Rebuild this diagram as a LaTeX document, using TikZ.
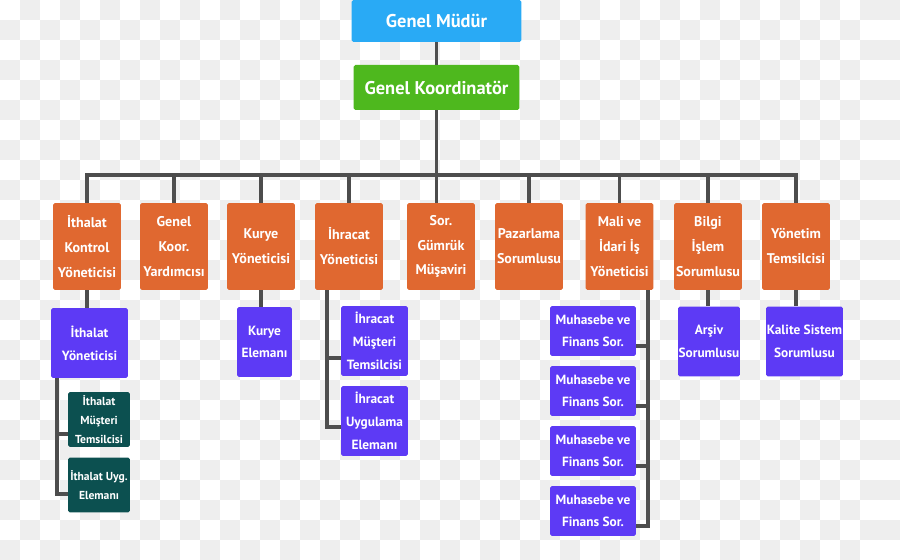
\documentclass[tikz,border=0pt]{standalone}
\usepackage{fontspec}
\setmainfont{PT Sans}
\usepackage{tikz}
\usetikzlibrary{positioning, calc}
\usepackage{xcolor}
\definecolor{chiefblue}{RGB}{41,170,245}
\definecolor{coordgreen}{RGB}{78,184,30}
\definecolor{deptorange}{RGB}{224,104,48}
\definecolor{staffpurple}{RGB}{93,58,245}
\definecolor{deepteal}{RGB}{12,80,80}
\definecolor{linegray}{RGB}{77,77,77}
\definecolor{checkgray}{RGB}{238,238,238}

\begin{document}
\begin{tikzpicture}[x=0.02cm, y=-0.02cm,
  unit/.style={rounded corners=1pt, text=white, align=center, inner sep=0pt},
  top/.style={unit, font=\bfseries\fontsize{10.5}{12}\selectfont},
  dept/.style={unit, fill=deptorange, minimum width=1.36cm, minimum height=1.74cm, font=\bfseries\fontsize{8}{14.2}\selectfont},
  staff/.style={unit, fill=staffpurple, minimum height=1.4cm, font=\bfseries\fontsize{7.6}{13}\selectfont},
  junior/.style={unit, fill=deepteal, minimum width=1.24cm, minimum height=1.1cm, font=\bfseries\fontsize{6.6}{10.8}\selectfont},
  conn/.style={draw=linegray, line width=2.2pt}]
  % checkered backdrop
  \useasboundingbox (0,0) rectangle (900,560);
  \fill[white] (0,0) rectangle (900,560);
  \foreach \i in {1,3,...,43} {
    \foreach \j in {0,2,...,26} {
      \fill[checkgray] (\i*20,\j*20) rectangle ++(20,20);
      \fill[checkgray] (\i*20-20,\j*20+20) rectangle ++(20,20);
    }
  }
  \fill[checkgray] (880,0) rectangle ++(20,20);
  \foreach \j in {2,4,...,26} \fill[checkgray] (880,\j*20) rectangle ++(20,20);

  % top of the chart
  \node[top, fill=chiefblue, minimum width=3.4cm, minimum height=0.84cm] (gm) at (436.5,21) {Genel Müdür};
  \node[top, fill=coordgreen, minimum width=3.32cm, minimum height=0.9cm] (gk) at (436.5,87.5) {Genel Koordinatör};
  \coordinate (bus) at (0,175);

  % departments
  \node[dept] (o1) at (87,246.5) {İthalat\\Kontrol\\Yöneticisi};
  \node[dept] (o2) at (174,246.5) {Genel\\Koor.\\Yardımcısı};
  \node[dept] (o3) at (261,246.5) {Kurye\\Yöneticisi};
  \node[dept] (o4) at (349,246.5) {İhracat\\Yöneticisi};
  \node[dept] (o5) at (441,246.5) {Sor.\\Gümrük\\Müşaviri};
  \node[dept] (o6) at (529,246.5) {Pazarlama\\Sorumlusu};
  \node[dept] (o7) at (619.5,246.5) {Mali ve\\İdari İş\\Yöneticisi};
  \node[dept] (o8) at (708,246.5) {Bilgi\\İşlem\\Sorumlusu};
  \node[dept] (o9) at (796,246.5) {Yönetim\\Temsilcisi};

  % staff under the departments
  \node[staff, minimum width=1.54cm] (iy) at (89.5,343) {İthalat\\Yöneticisi};
  \node[junior] (ta) at (99,419.5) {İthalat\\Müşteri\\Temsilcisi};
  \node[junior] (tb) at (99,485) {İthalat Uyg.\\Elemanı};
  \node[staff, minimum width=1.1cm] (ke) at (264.5,342) {Kurye\\Elemanı};
  \node[staff, minimum width=1.34cm] (ha) at (374.5,341) {İhracat\\Müşteri\\Temsilcisi};
  \node[staff, minimum width=1.34cm] (hb) at (374.5,421) {İhracat\\Uygulama\\Elemanı};
  \foreach \k/\y in {1/331,2/391,3/451,4/511}
    \node[staff, minimum width=1.72cm, minimum height=1cm] (m\k) at (593,\y) {Muhasebe ve\\Finans Sor.};
  \node[staff, minimum width=1.24cm] (ar) at (709,341.5) {Arşiv\\Sorumlusu};
  \node[staff, minimum width=1.54cm] (ks) at (804.5,341.5) {Kalite Sistem\\Sorumlusu};

  % connectors
  \draw[conn] (gm.south) -- (gk.north);
  \draw[conn] (gk.south) -- (gk.south |- bus);
  \draw[conn] (o1.north) -- (o1.north |- bus) -- (o9.north |- bus) -- (o9.north);
  \foreach \d in {o2,o3,o4,o6,o7,o8}
    \draw[conn] (\d.north |- bus) -- (\d.north);
  \draw[conn] (gk.south |- bus) -- (gk.south |- o5.north);

  \draw[conn] (o1.south) -- (o1.south |- iy.north);
  \draw[conn] (o3.south) -- (o3.south |- ke.north);
  \draw[conn] (o8.south) -- (o8.south |- ar.north);
  \draw[conn] (o9.south) -- (o9.south |- ks.north);

  \coordinate (iyl) at ($(iy.south west)+(6,0)$);
  \coordinate (taj) at ($(ta.north west)!0.76!(ta.south west)$);
  \coordinate (tbj) at ($(tb.north west)!0.66!(tb.south west)$);
  \draw[conn] (iyl) |- (tbj);
  \draw[conn] (iyl |- taj) -- (taj);

  \coordinate (o4l) at ($(o4.south west)+(12,0)$);
  \coordinate (haj) at ($(ha.north west)!0.74!(ha.south west)$);
  \coordinate (hbj) at ($(hb.north west)!0.59!(hb.south west)$);
  \draw[conn] (o4l) |- (hbj);
  \draw[conn] (o4l |- haj) -- (haj);

  \coordinate (o7r) at ($(o7.south east)+(-6,0)$);
  \foreach \k in {1,2,3,4}
    \coordinate (mj\k) at ($(m\k.north east)!0.8!(m\k.south east)$);
  \draw[conn] (o7r) |- (mj4);
  \foreach \k in {1,2,3}
    \draw[conn] (o7r |- mj\k) -- (mj\k);
\end{tikzpicture}
\end{document}
